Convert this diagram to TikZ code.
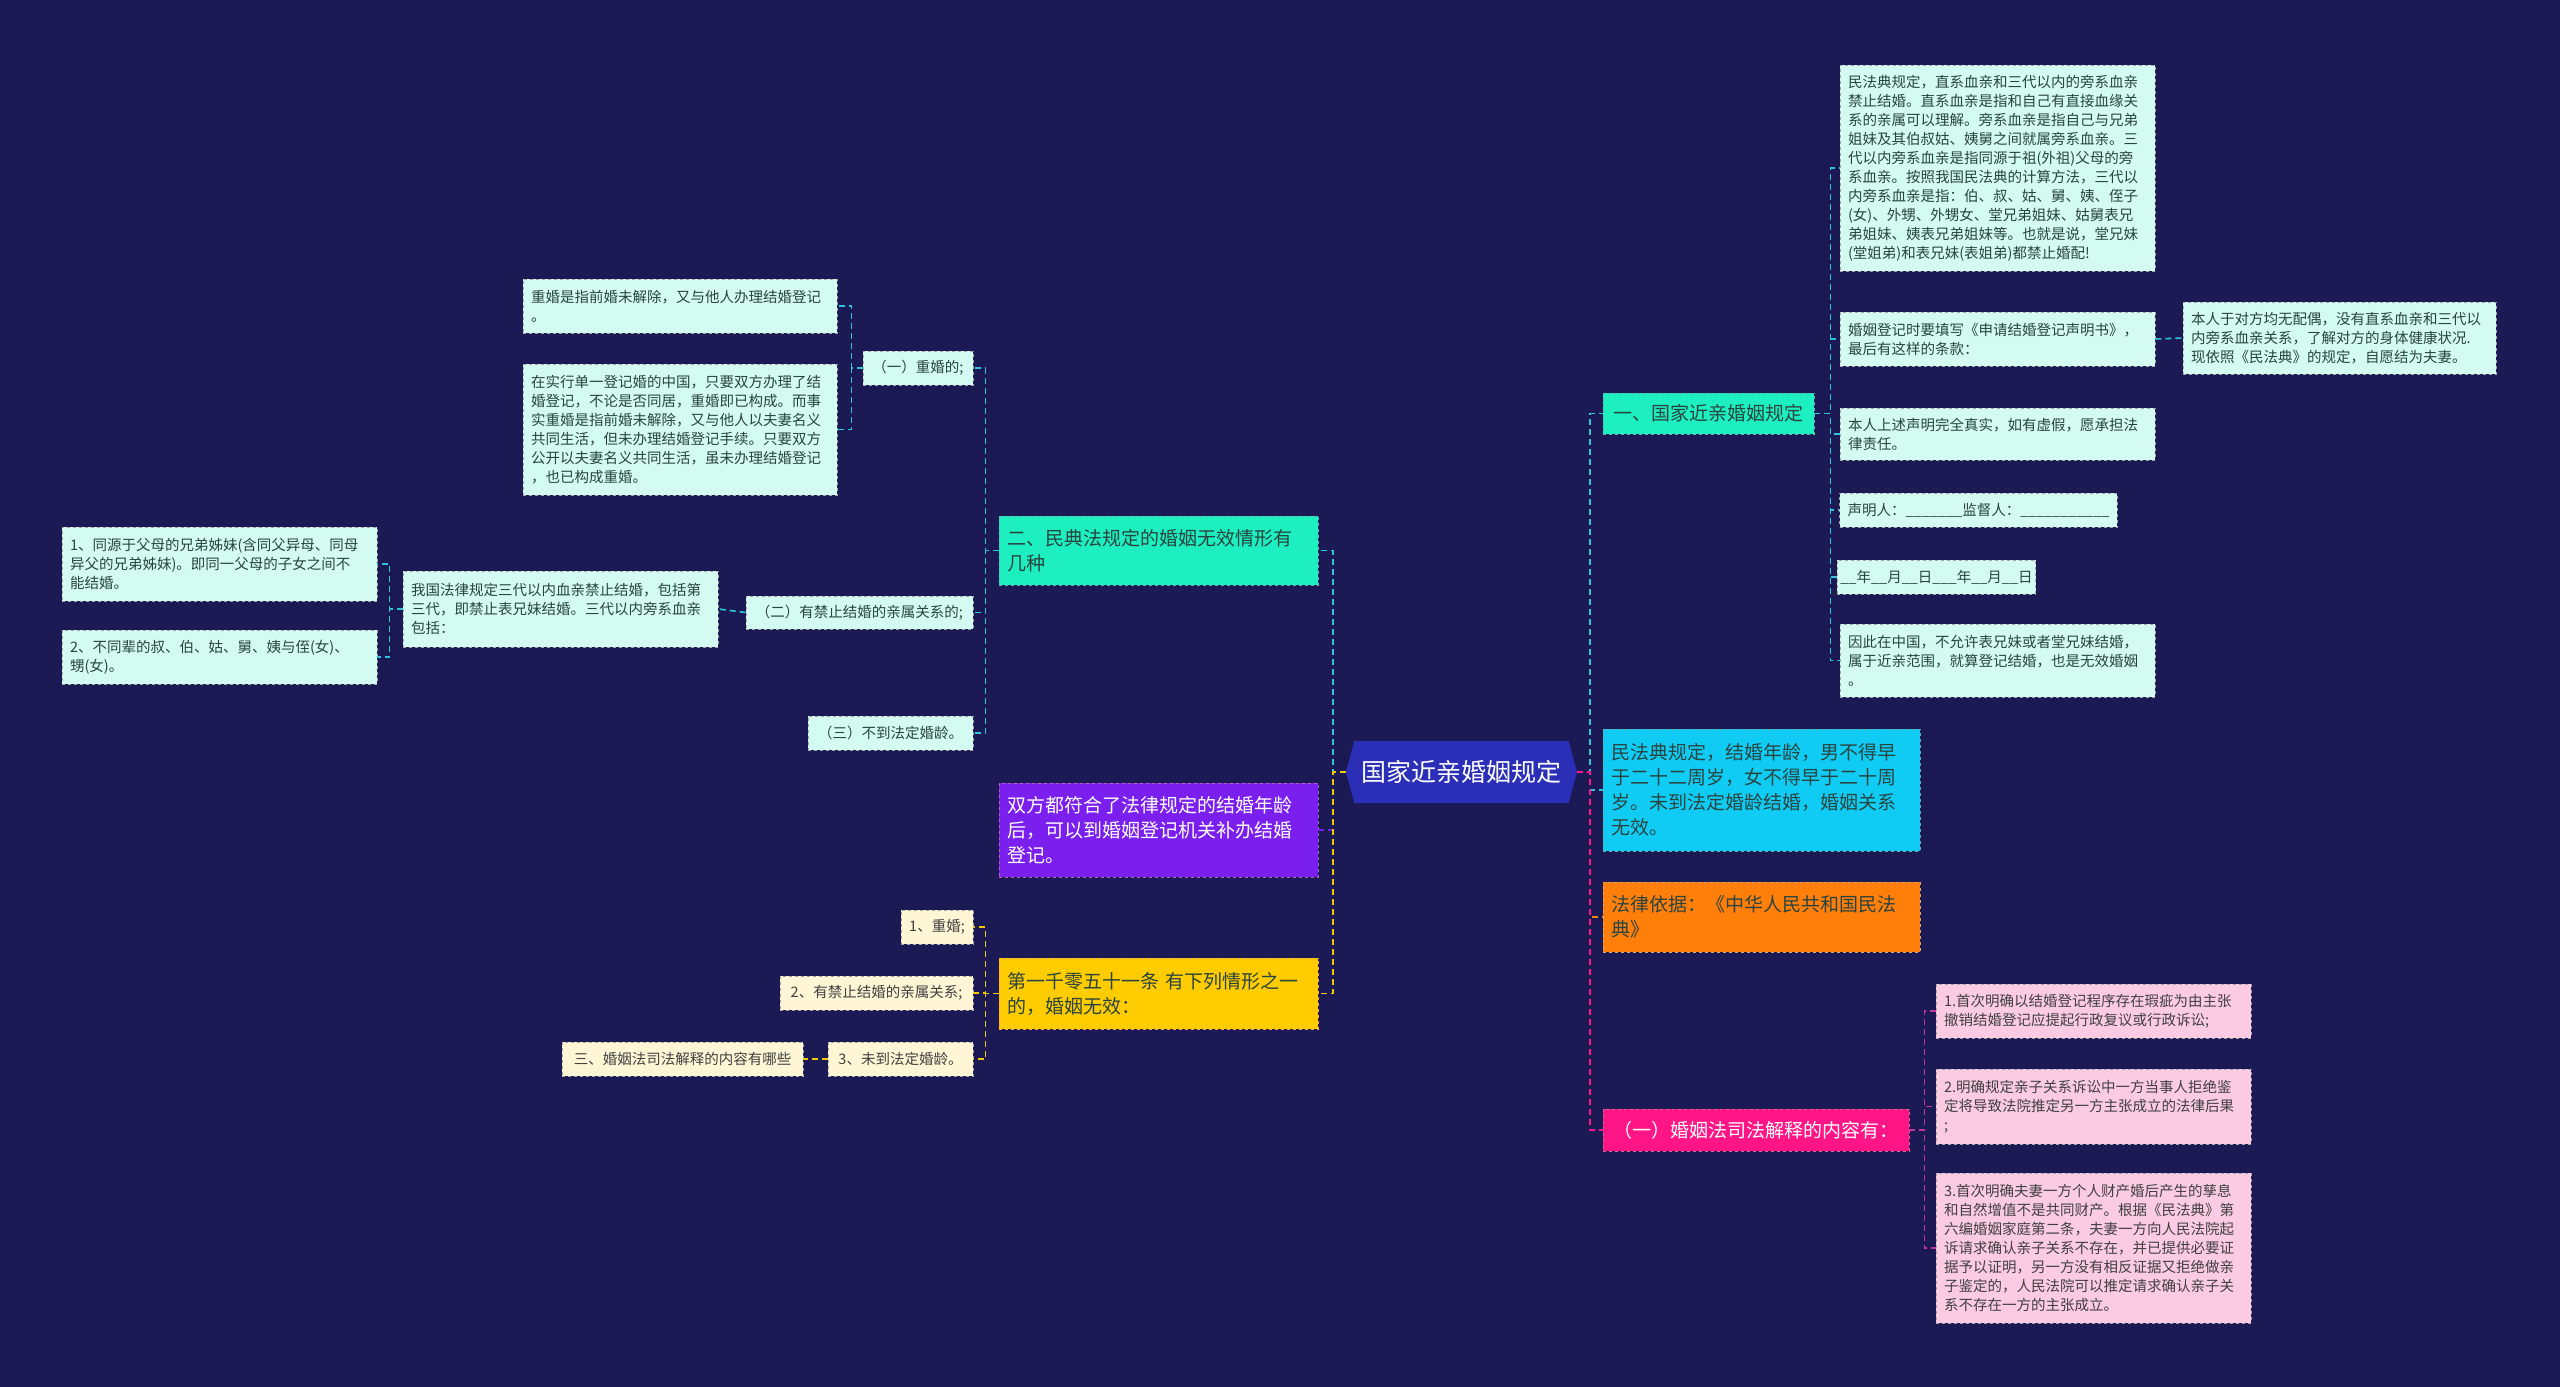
\documentclass[tikz,border=0pt]{standalone}
\usepackage{fontspec}
\setmainfont{Noto Sans CJK SC}
\usetikzlibrary{shapes.symbols}

\definecolor{bgcol}{HTML}{1B1A55}
\definecolor{rootfill}{HTML}{2B2FB8}
\definecolor{mintfill}{HTML}{1DEFC0}
\definecolor{leaffill}{HTML}{D3FBF1}
\definecolor{cyanfill}{HTML}{10CCF4}
\definecolor{orangefill}{HTML}{FF7F0A}
\definecolor{magentafill}{HTML}{FF1585}
\definecolor{pinkfill}{HTML}{FBCBE4}
\definecolor{purplefill}{HTML}{7B1FEE}
\definecolor{yellowfill}{HTML}{FFCC00}
\definecolor{creamfill}{HTML}{FFF6D6}
\definecolor{darktext}{HTML}{29443F}
\definecolor{cyanline}{HTML}{2EC4DE}
\definecolor{pinkline}{HTML}{C8379A}
\definecolor{yellowline}{HTML}{F2C800}

\tikzset{
  box/.style={rectangle, dashed, line width=0.8pt, inner xsep=8pt, inner ysep=6pt, align=left},
  topic/.style={box, font=\fontsize{19}{25}\selectfont, text=darktext},
  leaf/.style={box, fill=leaffill, draw=gray!70, text=darktext, font=\fontsize{14.5}{19}\selectfont},
  pinkleaf/.style={leaf, fill=pinkfill, text=black!75},
  creamleaf/.style={leaf, fill=creamfill, text=black!75},
  link/.style={draw=#1, line width=1.6pt, dash pattern=on 6pt off 4pt},
}

\begin{document}
\begin{tikzpicture}[x=1pt, y=-1pt]
% background, same size as the reference
\fill[bgcol] (0,0) rectangle (2560,1387);

% centre
\node[signal, signal to=west and east, signal pointer angle=150, fill=rootfill, text=white,
  minimum width=231pt, minimum height=62pt, font=\fontsize{25}{30}\selectfont] (root) at (1461.5,772) {国家近亲婚姻规定};

% right side
\node[topic, fill=mintfill, draw=teal!60, minimum width=211pt, minimum height=41pt] (kin) at (1708.5,413.5) {一、国家近亲婚姻规定};
\node[topic, fill=cyanfill, draw=teal!60, text width=301pt, minimum height=122pt] (age) at (1761.5,790) {民法典规定，结婚年龄，男不得早\\于二十二周岁，女不得早于二十周\\岁。未到法定婚龄结婚，婚姻关系\\无效。};
\node[topic, fill=orangefill, draw=brown!70, text width=301pt, minimum height=70pt] (basis) at (1761.5,917) {法律依据：《中华人民共和国民法\\典》};
\node[topic, fill=magentafill, draw=purple!60, text=white, minimum width=306pt, minimum height=42pt] (interp) at (1756,1130) {（一）婚姻法司法解释的内容有：};

\node[leaf, text width=299pt, minimum height=206pt] (kinA) at (1997.5,168) {民法典规定，直系血亲和三代以内的旁系血亲\\禁止结婚。直系血亲是指和自己有直接血缘关\\系的亲属可以理解。旁系血亲是指自己与兄弟\\姐妹及其伯叔姑、姨舅之间就属旁系血亲。三\\代以内旁系血亲是指同源于祖(外祖)父母的旁\\系血亲。按照我国民法典的计算方法，三代以\\内旁系血亲是指：伯、叔、姑、舅、姨、侄子\\(女)、外甥、外甥女、堂兄弟姐妹、姑舅表兄\\弟姐妹、姨表兄弟姐妹等。也就是说，堂兄妹\\(堂姐弟)和表兄妹(表姐弟)都禁止婚配!};
\node[leaf, text width=299pt, minimum height=54pt] (kinB) at (1997.5,339) {婚姻登记时要填写《申请结婚登记声明书》，\\最后有这样的条款：};
\node[leaf, text width=297pt, minimum height=72pt] (kinBa) at (2339.5,338) {本人于对方均无配偶，没有直系血亲和三代以\\内旁系血亲关系，了解对方的身体健康状况.\\现依照《民法典》的规定，自愿结为夫妻。};
\node[leaf, text width=299pt, minimum height=52pt] (kinC) at (1997.5,434) {本人上述声明完全真实，如有虚假，愿承担法\\律责任。};
\node[leaf, minimum width=277pt, minimum height=34pt] (kinD) at (1978.5,510) {声明人：\_\_\_\_\_\_\_监督人：\_\_\_\_\_\_\_\_\_\_\_};
\node[leaf, inner xsep=3pt, minimum width=193pt, minimum height=34pt] (kinE) at (1936.5,577) {\_\_年\_\_月\_\_日\_\_\_年\_\_月\_\_日};
\node[leaf, text width=299pt, minimum height=73pt] (kinF) at (1997.5,660.5) {因此在中国，不允许表兄妹或者堂兄妹结婚，\\属于近亲范围，就算登记结婚，也是无效婚姻\\。};

\node[pinkleaf, text width=299pt, minimum height=54pt] (intA) at (2093.5,1011) {1.首次明确以结婚登记程序存在瑕疵为由主张\\撤销结婚登记应提起行政复议或行政诉讼;};
\node[pinkleaf, text width=299pt, minimum height=75pt] (intB) at (2093.5,1106.5) {2.明确规定亲子关系诉讼中一方当事人拒绝鉴\\定将导致法院推定另一方主张成立的法律后果\\;};
\node[pinkleaf, text width=299pt, minimum height=150pt] (intC) at (2093.5,1248) {3.首次明确夫妻一方个人财产婚后产生的孳息\\和自然增值不是共同财产。根据《民法典》第\\六编婚姻家庭第二条，夫妻一方向人民法院起\\诉请求确认亲子关系不存在，并已提供必要证\\据予以证明，另一方没有相反证据又拒绝做亲\\子鉴定的，人民法院可以推定请求确认亲子关\\系不存在一方的主张成立。};

% left side
\node[topic, fill=mintfill, draw=teal!60, text width=303pt, minimum height=69pt] (invalid) at (1158.5,550.5) {二、民典法规定的婚姻无效情形有\\几种};
\node[topic, fill=purplefill, draw=violet!60, text=white, text width=303pt, minimum height=94pt] (remedy) at (1158.5,830) {双方都符合了法律规定的结婚年龄\\后，可以到婚姻登记机关补办结婚\\登记。};
\node[topic, fill=yellowfill, draw=orange!70, text width=303pt, minimum height=71pt] (article) at (1158.5,993.5) {第一千零五十一条 有下列情形之一\\的，婚姻无效：};

\node[leaf, minimum width=110pt, minimum height=34pt] (bigamy) at (918,368) {（一）重婚的;};
\node[leaf, text width=298pt, minimum height=54pt] (bigamyA) at (680,306) {重婚是指前婚未解除，又与他人办理结婚登记\\。};
\node[leaf, text width=298pt, minimum height=131pt] (bigamyB) at (680,429.5) {在实行单一登记婚的中国，只要双方办理了结\\婚登记，不论是否同居，重婚即已构成。而事\\实重婚是指前婚未解除，又与他人以夫妻名义\\共同生活，但未办理结婚登记手续。只要双方\\公开以夫妻名义共同生活，虽未办理结婚登记\\，也已构成重婚。};
\node[leaf, minimum width=227pt, minimum height=33pt] (relative) at (859.5,612.5) {（二）有禁止结婚的亲属关系的;};
\node[leaf, text width=299pt, minimum height=76pt] (relativeA) at (560.5,609) {我国法律规定三代以内血亲禁止结婚，包括第\\三代，即禁止表兄妹结婚。三代以内旁系血亲\\包括：};
\node[leaf, text width=299pt, minimum height=74pt] (sibling) at (219.5,564) {1、同源于父母的兄弟姊妹(含同父异母、同母\\异父的兄弟姊妹)。即同一父母的子女之间不\\能结婚。};
\node[leaf, text width=299pt, minimum height=54pt] (uncle) at (219.5,657) {2、不同辈的叔、伯、姑、舅、姨与侄(女)、\\甥(女)。};
\node[leaf, minimum width=165pt, minimum height=34pt] (underage) at (890.5,733) {（三）不到法定婚龄。};

\node[creamleaf, minimum width=72pt, minimum height=34pt] (artA) at (937,927) {1、重婚;};
\node[creamleaf, minimum width=193pt, minimum height=34pt] (artB) at (876.5,993) {2、有禁止结婚的亲属关系;};
\node[creamleaf, minimum width=145pt, minimum height=34pt] (artC) at (900.5,1059) {3、未到法定婚龄。};
\node[creamleaf, minimum width=241pt, minimum height=34pt] (artCa) at (682.5,1059) {三、婚姻法司法解释的内容有哪些};

% connectors from the centre
\draw[link=cyanline] (root.east) -- ++(13,0) |- (kin.west);
\draw[link=cyanline] (root.east) -- ++(13,0) |- (age.west);
\draw[link=orangefill] (root.east) -- ++(13,0) |- (basis.west);
\draw[link=magentafill] (root.east) -- ++(13,0) |- (interp.west);
\draw[link=cyanline] (root.west) -- ++(-13,0) |- (invalid.east);
\draw[link=purplefill] (root.west) -- ++(-13,0) |- (remedy.east);
\draw[link=yellowline] (root.west) -- ++(-13,0) |- (article.east);

% connectors to the leaves
\foreach \leafname in {kinA,kinB,kinC,kinD,kinE,kinF}
  \draw[link=cyanline] (kin.east) -- ++(16,0) |- (\leafname.west);
\draw[link=cyanline] (kinB.east) -- (kinBa.west);
\foreach \leafname in {intA,intB,intC}
  \draw[link=pinkline] (interp.east) -- ++(15,0) |- (\leafname.west);
\foreach \leafname in {bigamy,relative,underage}
  \draw[link=cyanline] (invalid.west) -- ++(-13,0) |- (\leafname.east);
\foreach \leafname in {bigamyA,bigamyB}
  \draw[link=cyanline] (bigamy.west) -- ++(-11,0) |- (\leafname.east);
\draw[link=cyanline] (relative.west) -- (relativeA.east);
\foreach \leafname in {sibling,uncle}
  \draw[link=cyanline] (relativeA.west) -- ++(-13,0) |- (\leafname.east);
\foreach \leafname in {artA,artB,artC}
  \draw[link=yellowline] (article.west) -- ++(-13,0) |- (\leafname.east);
\draw[link=yellowline] (artC.west) -- (artCa.east);
\end{tikzpicture}
\end{document}
